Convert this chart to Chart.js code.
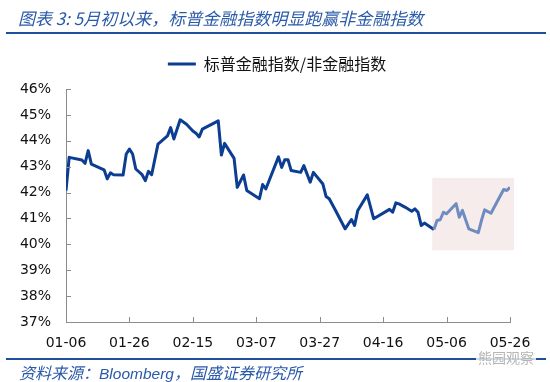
<!DOCTYPE html>
<html>
<head>
<meta charset="utf-8">
<script src="https://cdn.jsdelivr.net/npm/chart.js@4/dist/chart.umd.min.js"></script>
<style>
  body { margin: 0; background: #fff; }
  #wrap { position: relative; width: 550px; height: 382px; overflow: hidden; }
  #wrap canvas { position: absolute; left: 0; top: 0; }
  .title { position: absolute; left: 18px; top: 5px; line-height: 20px; white-space: nowrap;
           font: italic 17px "Noto Sans CJK SC", sans-serif; color: #2a5aa8; }
  .rule { position: absolute; left: 6px; width: 540px; height: 2px; background: #1f4e9a; }
  .source { position: absolute; left: 19px; top: 360px; line-height: 20px; white-space: nowrap;
            font: italic 16px "Noto Sans CJK SC", sans-serif; color: #2a5aa8; }
  .source b { font: italic 15.5px "Liberation Sans", sans-serif; }
  .mark { position: absolute; left: 476px; top: 347px; line-height: 18px; padding: 0 2px;
          font: 14px "Noto Sans CJK SC", sans-serif; color: #b5b5b5; background: rgba(255,255,255,0.8); }
</style>
</head>
<body>
<div id="wrap">
  <canvas id="canvas" width="550" height="382"></canvas>
  <div class="title">图表 3:&nbsp;5月初以来，标普金融指数明显跑赢非金融指数</div>
  <div class="rule" style="top:32px"></div>
  <div class="rule" style="top:358px"></div>
  <div class="source">资料来源：<b>Bloomberg</b>，国盛证券研究所</div>
  <div class="mark">熊园观察</div>
</div>
<script>
// S&P financials / non-financials ratio, 2021 trading days
const seriesName = '标普金融指数/非金融指数';
const dates = [
  '01-06', '01-07', '01-11', '01-12', '01-13', '01-14', '01-18', '01-19', '01-20', '01-21',
  '01-24', '01-25', '01-26', '01-27', '01-28', '01-30', '01-31', '02-01', '02-02', '02-04',
  '02-07', '02-08', '02-09', '02-11', '02-13', '02-15', '02-16', '02-17', '02-18', '02-23',
  '02-24', '02-25', '02-28', '03-01', '03-03', '03-04', '03-08', '03-09', '03-10', '03-14',
  '03-15', '03-16', '03-17', '03-18', '03-21', '03-22', '03-24', '03-25', '03-28', '03-29',
  '03-30', '04-01', '04-04', '04-06', '04-07', '04-08', '04-11', '04-13', '04-18', '04-19',
  '04-20', '04-21', '04-23', '04-25', '04-26', '04-27', '04-28', '04-29', '05-02', '05-03',
  '05-04', '05-05', '05-06', '05-09', '05-10', '05-11', '05-13', '05-16', '05-17', '05-18',
  '05-20', '05-24', '05-25', '05-26'
];
const ratio = [
  42.08, 43.36, 43.26, 43.13, 43.62, 43.10, 42.88, 42.53, 42.76, 42.69,
  42.68, 43.49, 43.68, 43.49, 42.91, 42.69, 42.46, 42.82, 42.69, 43.87,
  44.19, 44.51, 44.07, 44.81, 44.64, 44.38, 44.29, 44.15, 44.45, 44.77,
  43.45, 43.90, 43.32, 42.20, 42.68, 42.08, 41.76, 42.31, 42.14, 43.38,
  42.97, 43.27, 43.27, 42.85, 42.78, 43.04, 42.40, 42.78, 42.33, 41.85,
  41.76, 41.31, 40.60, 40.96, 40.73, 41.31, 41.91, 40.99, 41.35, 41.24,
  41.60, 41.56, 41.43, 41.28, 41.37, 41.24, 40.73, 40.82, 40.57, 40.92,
  40.95, 41.24, 41.18, 41.57, 41.05, 41.31, 40.60, 40.45, 40.92, 41.33,
  41.20, 42.12, 42.08, 42.20
];
const xTickLabels = ['01-06', '01-26', '02-15', '03-07', '03-27', '04-16', '05-06', '05-26'];
const yTicks = [37, 38, 39, 40, 41, 42, 43, 44, 45, 46];

// highlighted box since early May (day offsets / percent)
const shadeDays = [115.5, 141.3];
const shadeRange = [39.77, 42.57];
const shadeFrom = '05-02';

const darkBlue = '#0b3d91';
const lightBlue = '#6f8cc1';

function toDay(s) {
  const [m, d] = s.split('-').map(Number);
  return Math.round((new Date(2021, m - 1, d) - new Date(2021, 0, 6)) / 86400000);
}

const points = dates.map((d, i) => ({ x: toDay(d), y: ratio[i] }));

const shadeBox = {
  id: 'shadeBox',
  beforeDatasetsDraw(chart) {
    const { ctx, scales: { x, y } } = chart;
    const x0 = x.getPixelForValue(shadeDays[0]);
    const x1 = x.getPixelForValue(shadeDays[1]);
    const y0 = y.getPixelForValue(shadeRange[1]);
    const y1 = y.getPixelForValue(shadeRange[0]);
    ctx.save();
    ctx.fillStyle = '#f7ecec';
    ctx.fillRect(x0, y0, x1 - x0, y1 - y0);
    ctx.restore();
  }
};

// Excel style tick marks pointing into the plot
const innerTicks = {
  id: 'innerTicks',
  afterDraw(chart) {
    const { ctx, chartArea: a, scales: { x, y } } = chart;
    ctx.save();
    ctx.strokeStyle = '#8c8c8c';
    ctx.lineWidth = 1;
    ctx.beginPath();
    x.ticks.forEach(t => {
      const px = Math.round(x.getPixelForValue(t.value)) + 0.5;
      ctx.moveTo(px, a.bottom);
      ctx.lineTo(px, a.bottom - 5);
    });
    y.ticks.forEach(t => {
      const py = Math.round(y.getPixelForValue(t.value)) + 0.5;
      ctx.moveTo(a.left, py);
      ctx.lineTo(a.left + 5, py);
    });
    ctx.stroke();
    ctx.restore();
  }
};

// legend in the original sits a little right of the canvas centre
const legendShift = {
  id: 'legendShift',
  afterLayout(chart) {
    chart.legend.left += 22;
    chart.legend.right += 22;
  }
};

const ctx = document.getElementById('canvas').getContext('2d');
new Chart(ctx, {
  type: 'line',
  data: {
    datasets: [{
      label: seriesName,
      data: points,
      borderColor: darkBlue,
      backgroundColor: darkBlue,
      borderWidth: 3,
      borderJoinStyle: 'round',
      pointRadius: 0,
      tension: 0,
      segment: {
        borderColor: c => c.p0.parsed.x >= toDay(shadeFrom) ? lightBlue : darkBlue
      }
    }]
  },
  options: {
    responsive: false,
    animation: false,
    layout: { padding: { top: 46, right: 40, bottom: 20, left: 0 } },
    scales: {
      x: {
        type: 'linear',
        min: 0,
        max: 140,
        afterFit: s => { s.height = 40; },
        grid: { display: false, drawTicks: false },
        border: { display: true, color: '#8c8c8c', width: 1 },
        ticks: {
          stepSize: 20,
          padding: 13,
          color: '#111',
          font: { family: 'DejaVu Sans', size: 14 },
          callback: v => xTickLabels[v / 20]
        }
      },
      y: {
        min: 37,
        max: 46,
        afterFit: s => { s.width = 66; },
        afterBuildTicks: s => { s.ticks = yTicks.map(v => ({ value: v })); },
        grid: { display: false, drawTicks: false },
        border: { display: true, color: '#8c8c8c', width: 1 },
        ticks: {
          padding: 15,
          color: '#111',
          font: { family: 'DejaVu Sans', size: 14 },
          callback: v => v + '%'
        }
      }
    },
    plugins: {
      legend: {
        display: true,
        labels: {
          usePointStyle: true,
          pointStyle: 'line',
          pointStyleWidth: 28,
          boxHeight: 3,
          padding: 10,
          color: '#111',
          font: { family: 'Noto Sans CJK SC', size: 16 }
        }
      },
      // thin spacer between the legend and the plot
      subtitle: {
        display: true,
        text: '',
        weight: 500,
        font: { size: 1, lineHeight: 1 },
        padding: { top: 0, bottom: 6 }
      },
      tooltip: { enabled: false }
    }
  },
  plugins: [shadeBox, innerTicks, legendShift]
});
</script>
</body>
</html>
